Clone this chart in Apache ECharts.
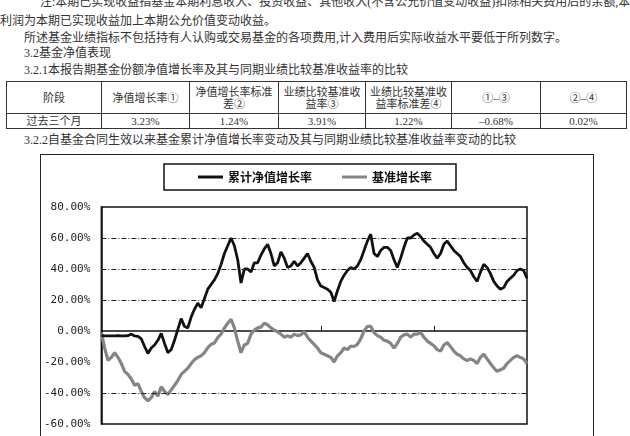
<!DOCTYPE html>
<html>
<head>
<meta charset="utf-8">
<script src="https://cdn.jsdelivr.net/npm/echarts@6/dist/echarts.min.js"></script>
<style>
html,body{margin:0;padding:0;width:630px;height:436px;overflow:hidden;background:#fff;}
body{font-family:"Liberation Serif","Noto Sans CJK SC",serif;color:#333;position:relative;}
.t{position:absolute;font-size:12px;line-height:14px;white-space:nowrap;}
table{position:absolute;left:6px;top:81px;border-collapse:collapse;font-size:11px;color:#333;}
td{border:1px solid #333;text-align:center;padding:0;line-height:12px;}
#frame{position:absolute;left:40px;top:154px;width:552px;height:300px;border:1.5px solid #222;}
#chart{position:absolute;left:0;top:0;width:552px;height:300px;}
</style>
</head>
<body>
<div class="t" style="left:40px;top:-5px;">注:本期已实现收益指基金本期利息收入、投资收益、其他收入(不含公允价值变动收益)扣除相关费用后的余额,本期</div>
<div class="t" style="left:0px;top:14px;">利润为本期已实现收益加上本期公允价值变动收益。</div>
<div class="t" style="left:24px;top:31px;">所述基金业绩指标不包括持有人认购或交易基金的各项费用,计入费用后实际收益水平要低于所列数字。</div>
<div class="t" style="left:24px;top:46px;">3.2基金净值表现</div>
<div class="t" style="left:24px;top:63px;">3.2.1本报告期基金份额净值增长率及其与同期业绩比较基准收益率的比较</div>
<table>
<tr style="height:32px;">
<td style="width:94px;">阶段</td><td style="width:87px;">净值增长率①</td><td style="width:88px;">净值增长率标准<br>差②</td><td style="width:86px;">业绩比较基准收<br>益率③</td><td style="width:85px;">业绩比较基准收<br>益率标准差④</td><td style="width:88px;">①–③</td><td style="width:85px;">②–④</td>
</tr>
<tr style="height:15px;">
<td>过去三个月</td><td>3.23%</td><td>1.24%</td><td>3.91%</td><td>1.22%</td><td>–0.68%</td><td>0.02%</td>
</tr>
</table>
<div class="t" style="left:24px;top:133px;">3.2.2自基金合同生效以来基金累计净值增长率变动及其与同期业绩比较基准收益率变动的比较</div>
<div id="frame"><div id="chart"></div></div>
<script>
var seriesNames = ['累计净值增长率', '基准增长率'];
var fundGrowth = [
 -3, -3.2, -3.2, -3.2, -3.2, -3, -3.2, -3.2, -3, -2,
 -3.2, -3.5, -5, -10, -14.5, -11, -9, -6, -1.5, -8,
 -14, -12, -6, 1, 8, 3, 2, 9, 14, 18,
 15, 21, 27, 30, 33, 37, 43, 50, 55, 60,
 55, 46, 31, 40, 40, 38, 44, 44, 49, 53,
 56, 50, 42, 44, 51, 47, 41, 42, 45, 42,
 44, 47, 50, 45, 41, 33, 29, 28, 27, 25,
 19, 26, 32, 36, 39, 41, 40, 42, 46, 52,
 58, 62.5, 50, 48, 52, 54, 54, 52, 46, 41,
 47, 54, 60, 60, 62, 63, 61, 58, 56, 54,
 50, 47, 50, 56, 58, 55, 52, 50, 48, 44,
 41, 39, 35, 32, 38, 43, 41, 37, 32, 29,
 27, 28, 32, 34, 36, 39, 40, 39, 34
];
var benchGrowth = [
 -1, -11, -19, -17, -14, -17, -21, -26, -28, -31,
 -35, -34, -39, -43, -45, -43, -39, -42, -36, -39,
 -41, -38, -35, -32, -28, -26, -24, -21, -18.5, -17,
 -16, -14, -10.7, -8.6, -7.7, -4.3, -2, 2, 5, 7.5,
 2, -6.5, -14, -9, -8, -2, 0.6, 2, 2.5, 5,
 4, 2, 0.6, -0.5, -2, -4, -3, -4, -2, -3,
 -2.5, -0.5, -4, -6.5, -8.6, -11, -14, -15, -16, -17,
 -20, -16, -14, -11, -12, -9.7, -10, -8.6, -5, 0,
 3, 3, -1, -3, -4, -6, -6.5, -8, -11, -8,
 -4, -2.5, -2, -4, -2, -2, -1, -4, -6.5, -8,
 -9.5, -12, -13, -9, -7.5, -10, -13, -15, -16, -18,
 -19, -18, -19, -21, -17, -15, -18, -21, -23.7, -26,
 -25, -24, -21, -19, -17, -16, -17, -18, -21
];
var categories = fundGrowth.map(function(_, i){ return String(i + 1); });
var xTickIndices = [66, 100];
var yTicks = [-60, -40, -20, 0, 20, 40, 60, 80];
var gridValues = [60, 40, 20, -40];

var chart = echarts.init(document.getElementById('chart'), null, {renderer: 'canvas'});
chart.setOption({
  animation: false,
  legend: {
    left: 123, top: 9,
    data: seriesNames.map(function(n){ return {name: n, icon: 'rect'}; }),
    itemWidth: 25, itemHeight: 3, itemGap: 30,
    padding: [7, 24, 7, 34],
    borderColor: '#111', borderWidth: 1.5,
    textStyle: {fontFamily: 'Noto Sans CJK SC', fontSize: 12, fontWeight: 'bold', color: '#111'},
    selectedMode: false
  },
  grid: {left: 59, top: 52, width: 427, height: 217, show: true, borderColor: '#111', borderWidth: 1.5, backgroundColor: 'transparent'},
  xAxis: {
    type: 'category', data: categories, boundaryGap: false,
    axisLine: {lineStyle: {color: '#111', width: 1.5}},
    axisTick: {show: true, inside: true, length: 5, lineStyle: {color: '#111'},
      interval: function(i){ return xTickIndices.indexOf(i) >= 0; }},
    axisLabel: {show: false},
    splitLine: {show: false}
  },
  yAxis: {
    type: 'value', min: yTicks[0], max: yTicks[yTicks.length - 1], interval: 20,
    axisLine: {show: true, lineStyle: {color: '#111', width: 1.5}},
    axisTick: {show: false},
    splitLine: {show: false},
    axisLabel: {margin: 11, fontFamily: 'DejaVu Sans Mono', fontSize: 11, color: '#222',
      formatter: function(v){ return v.toFixed(2) + '%'; }}
  },
  series: [
    {
      name: seriesNames[0], type: 'line', data: fundGrowth, showSymbol: false, symbol: 'none',
      lineStyle: {color: '#111', width: 2.8}, itemStyle: {color: '#111'}, z: 3,
      markLine: {
        silent: true, symbol: 'none', label: {show: false},
        lineStyle: {color: '#222', width: 1, type: [5, 2, 1, 2]},
        data: gridValues.map(function(v){ return {yAxis: v}; })
      }
    },
    {
      name: seriesNames[1], type: 'line', data: benchGrowth, showSymbol: false, symbol: 'none',
      lineStyle: {color: '#858585', width: 3.2}, itemStyle: {color: '#858585'}, z: 2
    }
  ]
});
</script>
</body>
</html>
